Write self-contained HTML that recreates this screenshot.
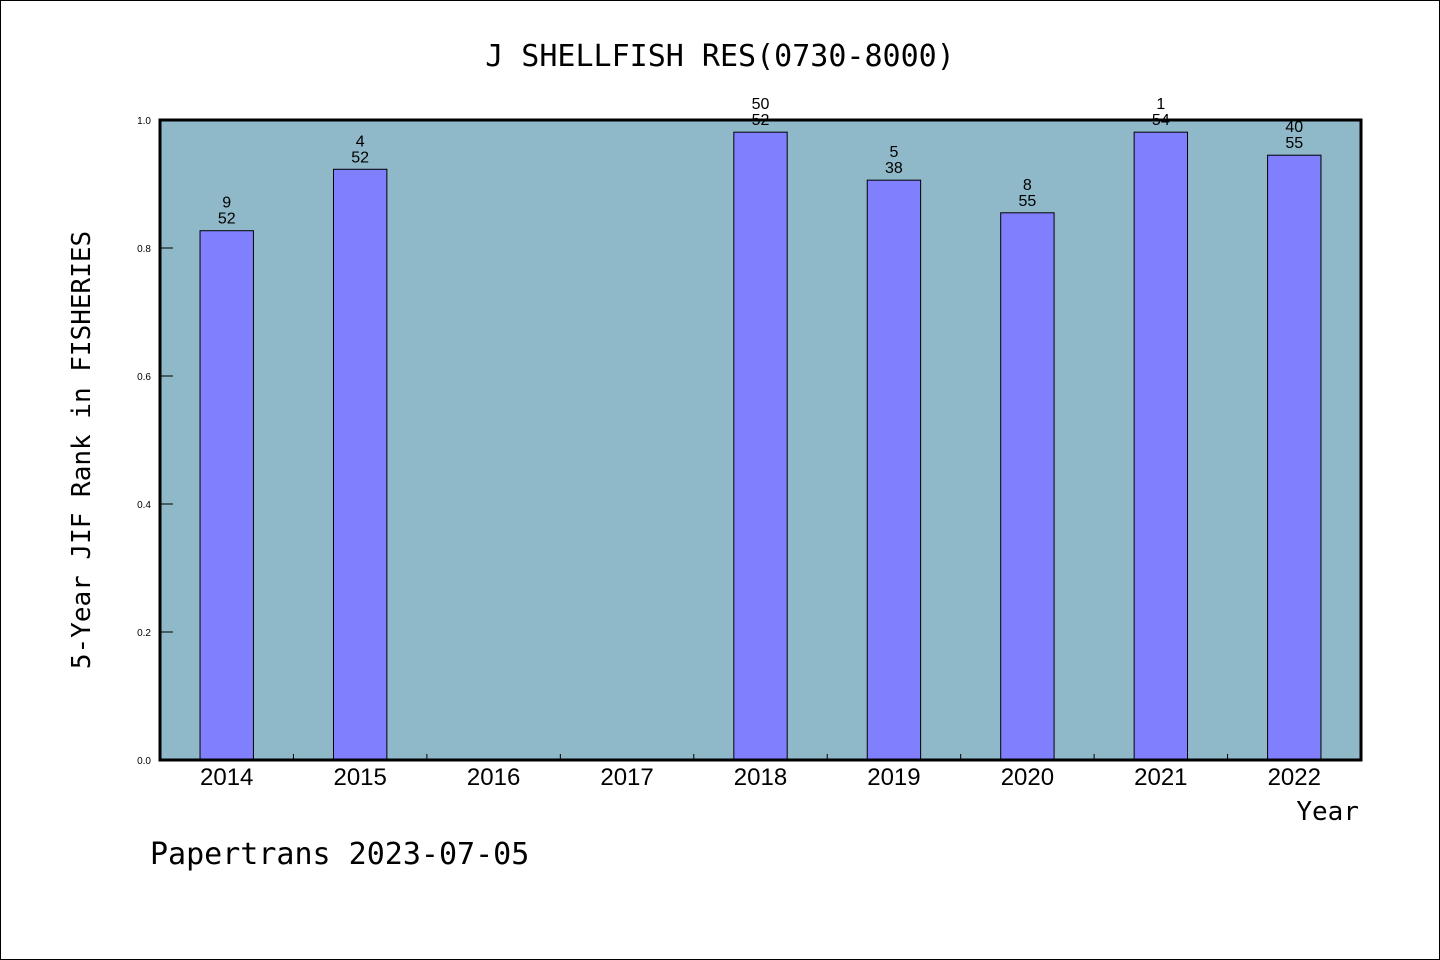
<!DOCTYPE html>
<html><head><meta charset="utf-8"><style>
html,body{margin:0;padding:0;background:#fff}
svg{display:block}
text{font-family:"Liberation Sans","DejaVu Sans",sans-serif;fill:#000}
.mono{font-family:"WenQuanYi Zen Hei","DejaVu Sans Mono","Liberation Mono",monospace}
</style></head><body>
<svg id="chart" width="1440" height="960" viewBox="0 0 1440 960">
<rect x="0.5" y="0.5" width="1439" height="959" fill="#fff" stroke="#000"/>
<text class="mono" x="720" y="66" font-size="30" text-anchor="middle">J SHELLFISH RES(0730-8000)</text>
<rect x="160" y="120" width="1201" height="640" fill="#8fb8c8"/>
<g id="bars"></g>
<g id="axes"></g>
<text class="mono" x="90" y="450" font-size="26" text-anchor="middle" transform="rotate(-90 90 450)">5-Year JIF Rank in FISHERIES</text>
<text class="mono" x="1359" y="820" font-size="26" text-anchor="end">Year</text>
<text class="mono" x="150" y="864" font-size="30">Papertrans 2023-07-05</text>
</svg>
<script>
const categories=["2014","2015","2016","2017","2018","2019","2020","2021","2022"];
const values=[0.827,0.923,null,null,0.981,0.906,0.855,0.981,0.945];
const rankLabels=["9","4","","","50","5","8","1","40"];
const totalLabels=["52","52","","","52","38","55","54","55"];
const yTicks=[0,0.2,0.4,0.6,0.8,1.0];
const NS="http://www.w3.org/2000/svg";
const X0=160,X1=1361,Y0=760,Y1=120;
const bw=(X1-X0)/categories.length;
const xc=i=>X0+bw*(i+0.5);
const y=v=>Y0-(Y0-Y1)*v;
function mk(tag,attrs,parent){const e=document.createElementNS(NS,tag);for(const k in attrs)e.setAttribute(k,attrs[k]);parent.appendChild(e);return e;}
const gb=document.getElementById('bars'),ga=document.getElementById('axes');
categories.forEach((c,i)=>{
  const v=values[i];
  if(v!==null){
    const r=mk('rect',{x:xc(i)-bw*0.2,y:y(v),width:bw*0.4,height:Y0-y(v),fill:'#8080ff',stroke:'#000','stroke-width':1},gb);
    
    
    const t1=mk('text',{x:xc(i),y:y(v)-23,'font-size':16,'text-anchor':'middle'},gb);
    t1.textContent=rankLabels[i];
    
    
    const t2=mk('text',{x:xc(i),y:y(v)-7,'font-size':16,'text-anchor':'middle'},gb);
    t2.textContent=totalLabels[i];
    
    
  }
  const tl=mk('text',{x:xc(i),y:785,'font-size':24,'text-anchor':'middle'},ga);
  tl.textContent=c;
  
  
  if(i>0){
    const tk=mk('line',{x1:X0+bw*i,x2:X0+bw*i,y1:Y0,y2:Y0-6,stroke:'#000','stroke-width':1},ga);
    
    
  }
});
yTicks.forEach(t=>{
  const ln=mk('line',{x1:X0,x2:X0+13,y1:y(t),y2:y(t),stroke:'#000','stroke-width':1},ga);
  
  
  const tx=mk('text',{x:151,y:y(t)+4,'font-size':10,'text-anchor':'end'},ga);
  tx.textContent=t.toFixed(1);
  
  
});
const fr=mk('rect',{x:X0,y:Y1,width:X1-X0,height:Y0-Y1,fill:'none',stroke:'#000','stroke-width':3},ga);


</script>
</body></html>
